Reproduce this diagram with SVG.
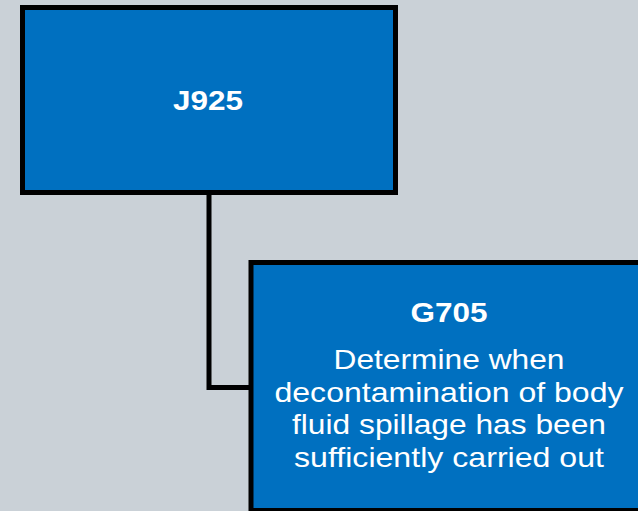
<svg xmlns="http://www.w3.org/2000/svg" width="638" height="511" viewBox="0 0 638 511">
<style>
.node{fill:#0070C0;stroke:#000;stroke-width:5}
.conn{fill:none;stroke:#000;stroke-width:5}
text{font-family:"Liberation Sans",Arial,sans-serif;fill:#fff;text-anchor:middle;font-size:28px}
.b{font-weight:bold}
</style>
<rect width="638" height="511" fill="#CAD1D7"/>
<g id="connectors">
<path class="conn" d="M209,192 V387.5 H251"/>
</g>
<g id="J925">
<rect class="node" x="22.5" y="7.5" width="373" height="185"/>
<text class="b" x="208" y="109.5" textLength="70" lengthAdjust="spacingAndGlyphs">J925</text>
</g>
<g id="G705">
<rect class="node" x="251" y="262.5" width="400" height="248"/>
<text class="b" x="449" y="321.5" textLength="77" lengthAdjust="spacingAndGlyphs">G705</text>
<text x="449" y="369" textLength="231" lengthAdjust="spacingAndGlyphs">Determine when</text>
<text x="449" y="401.5" textLength="349" lengthAdjust="spacingAndGlyphs">decontamination of body</text>
<text x="449" y="434" textLength="314" lengthAdjust="spacingAndGlyphs">fluid spillage has been</text>
<text x="449" y="466.5" textLength="310" lengthAdjust="spacingAndGlyphs">sufficiently carried out</text>
</g>
</svg>
